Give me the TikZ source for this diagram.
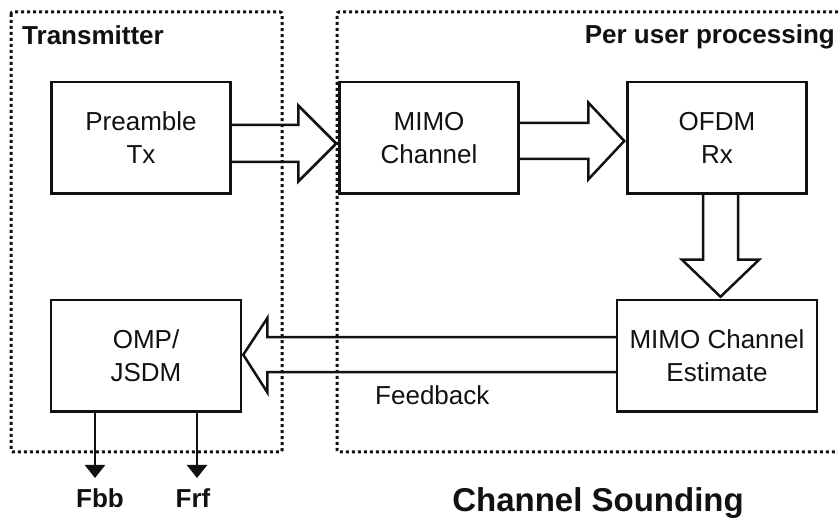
\documentclass[tikz,border=0pt]{standalone}
\usepackage{fontspec}
\setmainfont{Liberation Sans}
\usetikzlibrary{arrows.meta,positioning,calc}
\definecolor{csInk}{HTML}{111111}
\tikzset{
  box/.style   ={draw=csInk,line width=2.5pt,align=center,text=csInk,
                 font=\fontsize{26}{33}\selectfont,inner sep=2pt,
                 minimum width=179pt,minimum height=111.5pt},
  frame/.style ={draw=csInk,line width=3pt,dash pattern=on 3pt off 3pt,
                 rounded corners=2pt},
  fat/.style   ={draw=csInk,line width=2.5pt,line join=miter},
  flow/.style  ={-{Triangle[width=20pt,length=13pt]},csInk,line width=2.5pt},
  lbl/.style   ={font=\fontsize{26}{33}\selectfont,text=csInk,inner sep=0pt},
  blbl/.style  ={font=\fontsize{26}{33}\selectfont\bfseries,text=csInk,inner sep=0pt},
}
\begin{document}
\begin{tikzpicture}[x=1pt,y=1pt]
\useasboundingbox (0,0) rectangle (838,521);

%% dotted groups
\draw[frame] (11,509) rectangle (282,69);
\draw[frame] (838,509) -| (337,69) -- (838,69);
\node[blbl,anchor=base west] (txlbl) at (22,476) {Transmitter};
\node[blbl,anchor=base east] (pulbl) at (835,477) {Per user processing};

%% blocks
\node[box] (pre) at (141,383) {Preamble\\Tx};
\node[box,right=106.5pt of pre] (mim) {MIMO\\Channel};
\node[box,right=106.5pt of mim] (ofdm) {OFDM\\Rx};
\node[box,minimum width=200pt,below=103.75pt of ofdm] (est) {MIMO Channel\\Estimate};
\node[box,minimum width=190pt,left=373.5pt of est] (omp) {OMP/\\JSDM};

%% hollow block arrows
\draw[fat] ($(pre.east)+(0,13)$) -- ($(mim.west)+(-40,13)$) -- ($(mim.west)+(-40,32.5)$)
  -- ($(mim.west)+(-2,-5.5)$) -- ($(mim.west)+(-40,-43.5)$) -- ($(mim.west)+(-40,-24)$)
  -- ($(pre.east)+(0,-24)$);
\draw[fat] ($(mim.east)+(0,15)$) -- ($(ofdm.west)+(-38,15)$) -- ($(ofdm.west)+(-38,35.5)$)
  -- ($(ofdm.west)+(-2,-3)$) -- ($(ofdm.west)+(-38,-41.5)$) -- ($(ofdm.west)+(-38,-21)$)
  -- ($(mim.east)+(0,-21)$);
\draw[fat] ($(ofdm.south)+(-14,0)$) -- ($(est.north)+(-14,39)$) -- ($(est.north)+(-35,39)$)
  -- ($(est.north)+(3.5,2)$) -- ($(est.north)+(42,39)$) -- ($(est.north)+(21,39)$)
  -- ($(ofdm.south)+(21,0)$);
\draw[fat] ($(est.west)+(0,18.5)$) -- ($(omp.east)+(25,18.5)$) -- ($(omp.east)+(25,37.5)$)
  -- ($(omp.east)+(1,1)$) -- ($(omp.east)+(25,-36.5)$) -- ($(omp.east)+(25,-16.5)$)
  -- ($(est.west)+(0,-16.5)$);
\node[lbl,anchor=base west] (fb) at (375,116) {Feedback};

%% outputs
\coordinate (fbbtip) at (95,43);
\coordinate (frftip) at (197,43);
\draw[flow] (omp.south -| fbbtip) -- (fbbtip);
\draw[flow] (omp.south -| frftip) -- (frftip);
\node[blbl,anchor=base] (fbb) at (100,13) {Fbb};
\node[blbl,anchor=base] (frf) at (193,13) {Frf};

\node[font=\fontsize{33}{40}\selectfont\bfseries,text=csInk,inner sep=0pt,anchor=base] (title) at (598,9) {Channel Sounding};
\end{tikzpicture}
\end{document}
